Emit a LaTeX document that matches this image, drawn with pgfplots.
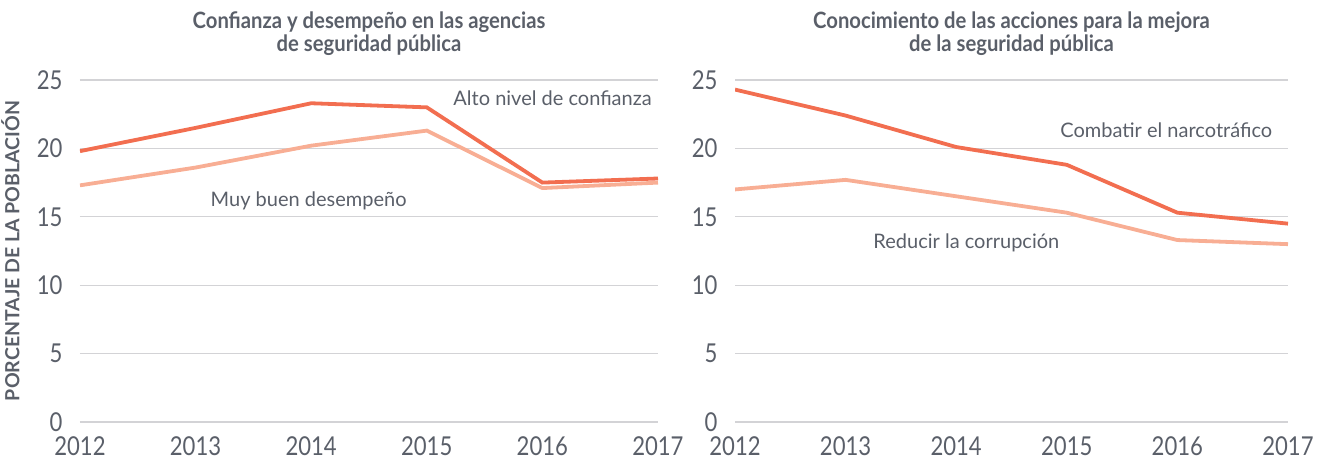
\documentclass[border=0pt]{standalone}
\usepackage{fontspec}
\setmainfont{Lato}
\newfontfamily\tickfont[FakeStretch=0.85]{Lato}
\newfontfamily\titlefont[FakeStretch=0.9]{Lato}
\usepackage{pgfplots}
\pgfplotsset{compat=1.18}
\definecolor{darkline}{HTML}{F26E50}
\definecolor{lightline}{HTML}{F8AE94}
\definecolor{txt}{HTML}{5A5F69}
\definecolor{gridc}{HTML}{D3D3D6}

\pgfplotsset{
  panel/.style={
    scale only axis, height=342pt,
    xmin=2012, xmax=2017, ymin=0, ymax=25,
    axis line style={draw=none}, ymajorgrids,
    grid style={gridc, line width=1.2pt},
    xtick={2012,...,2017}, ytick={0,5,...,25},
    xticklabel style={/pgf/number format/1000 sep={}},
    tick label style={font=\tickfont\fontsize{26}{26}\selectfont, text=txt},
    /pgf/number format/assume math mode=true,
    xticklabel style={inner sep=0pt, yshift=-14pt},
    yticklabel style={xshift=-14pt},
    major tick length=0pt,
    title style={font=\titlefont\bfseries\fontsize{22.5}{23}\selectfont, text=txt, align=center, yshift=15pt},
  },
  dk/.style={darkline, line width=3.8pt},
  lt/.style={lightline, line width=3.8pt},
}
\tikzset{lab/.style={font=\fontsize{20}{20}\selectfont, text=txt, anchor=west}}

\begin{document}
\begin{tikzpicture}
\useasboundingbox (0,0) rectangle (1326pt,459pt);

\begin{axis}[panel, width=578pt, at={(80pt,37pt)}, anchor=south west,
  title={Confianza y desempeño en las agencias\\de seguridad pública},
  ylabel={PORCENTAJE DE LA POBLACIÓN},
  ylabel style={font=\bfseries\fontsize{19.5}{19.5}\selectfont, text=txt,
    at={(axis description cs:0,0.5)}, anchor=south, rotate=0, yshift=57pt},
]
\addplot[lt] coordinates {(2012,17.3) (2013,18.6) (2014,20.2) (2015,21.3) (2016,17.1) (2017,17.5)};
\addplot[dk] coordinates {(2012,19.8) (2013,21.5) (2014,23.3) (2015,23.0) (2016,17.5) (2017,17.8)};
\node[lab] at (axis cs:2015.2,23.7) {Alto nivel de confianza};
\node[lab] at (axis cs:2013.1,16.2) {Muy buen desempeño};
\end{axis}

\begin{axis}[panel, width=553pt, at={(735pt,37pt)}, anchor=south west,
  title={Conocimiento de las acciones para la mejora\\de la seguridad pública},
]
\addplot[lt] coordinates {(2012,17.0) (2013,17.7) (2014,16.5) (2015,15.3) (2016,13.3) (2017,13.0)};
\addplot[dk] coordinates {(2012,24.3) (2013,22.4) (2014,20.1) (2015,18.8) (2016,15.3) (2017,14.5)};
\node[lab] at (axis cs:2014.91,21.3) {Combatir el narcotráfico};
\node[lab] at (axis cs:2013.22,13.1) {Reducir la corrupción};
\end{axis}
\end{tikzpicture}
\end{document}
